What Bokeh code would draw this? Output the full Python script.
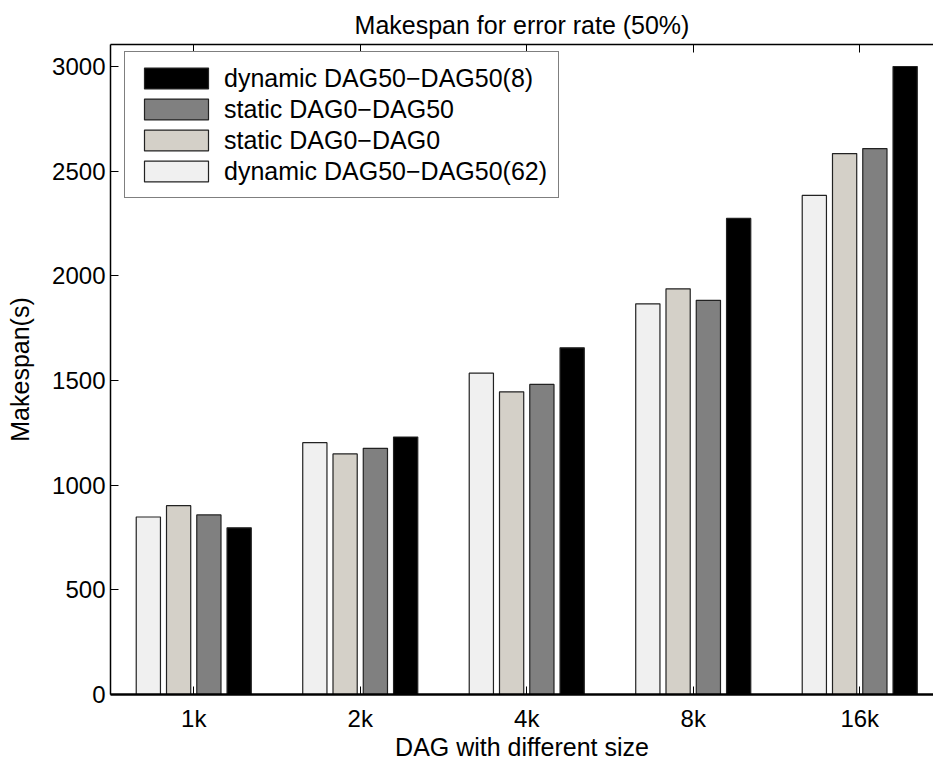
from bokeh.plotting import figure
from bokeh.models import (ColumnDataSource, Range1d, FixedTicker, LinearAxis,
                          Legend, LegendItem)
from bokeh.embed import file_html
from bokeh.resources import INLINE

# ---- data ----
categories = ["1k", "2k", "4k", "8k", "16k"]
series_names = ["dynamic DAG50\u2212DAG50(62)", "static DAG0\u2212DAG0",
                "static DAG0\u2212DAG50", "dynamic DAG50\u2212DAG50(8)"]
dyn_62 = [848, 1203, 1535, 1866, 2384]
static_0_0 = [902, 1149, 1446, 1938, 2584]
static_0_50 = [858, 1176, 1481, 1883, 2608]
dyn_8 = [796, 1230, 1656, 2274, 3000]
y_ticks = [0, 500, 1000, 1500, 2000, 2500, 3000]

series_values = [dyn_62, static_0_0, static_0_50, dyn_8]
colors = ["#f0f0f0", "#d4d0c8", "#808080", "#000000"]
offsets = [-0.2727, -0.0909, 0.0909, 0.2727]
bar_w = 0.1455

FONT = "Liberation Sans"

p = figure(width=933, height=763, output_backend="svg", toolbar_location=None,
           x_range=Range1d(0.5, 5.443), y_range=Range1d(0, 3105),
           min_border_left=110, min_border_right=0, min_border_top=44,
           min_border_bottom=65, title="Makespan for error rate (50%)")
p.outline_line_color = None
p.grid.visible = False
p.background_fill_color = "white"
p.border_fill_color = "white"

p.title.text_font = FONT
p.title.text_font_size = "25px"
p.title.text_font_style = "normal"
p.title.align = "center"
p.title.text_color = "black"
p.title.standoff = 12
p.title.offset = 4

renderers = []
for vals, col, off in zip(series_values, colors, offsets):
    xs = [i + 1 + off for i in range(len(categories))]
    src = ColumnDataSource(dict(x=xs, top=vals))
    r = p.vbar(x="x", top="top", width=bar_w, bottom=0, source=src,
               fill_color=col, line_color="#222222", line_width=1.2)
    renderers.append(r)

tick_pos = list(range(1, len(categories) + 1))
p.xaxis.ticker = FixedTicker(ticks=tick_pos)
p.xaxis.major_label_overrides = {i + 1: c for i, c in enumerate(categories)}
p.yaxis.ticker = FixedTicker(ticks=y_ticks)
p.xaxis.axis_label = "DAG with different size"
p.yaxis.axis_label = "Makespan(s)"

for ax in [p.xaxis[0], p.yaxis[0]]:
    ax.major_tick_in = 8
    ax.major_tick_out = 0
    ax.minor_tick_line_color = None
    ax.axis_line_color = "black"
    ax.major_tick_line_color = "black"
    ax.major_label_text_font = FONT
    ax.major_label_text_font_size = "24px"
    ax.major_label_text_color = "black"
    ax.axis_label_text_font = FONT
    ax.axis_label_text_font_size = "25px"
    ax.axis_label_text_font_style = "normal"
    ax.axis_label_text_color = "black"

p.xaxis.axis_line_width = 2.5
p.yaxis.axis_line_width = 1.5
p.xaxis.major_label_standoff = 10
p.xaxis.axis_label_standoff = -2
p.yaxis.major_label_standoff = 5
p.yaxis.axis_label_standoff = 15

top_ax = LinearAxis(ticker=FixedTicker(ticks=tick_pos),
                    major_label_overrides={t: "" for t in tick_pos},
                    major_label_standoff=0,
                    major_tick_in=8, major_tick_out=0,
                    minor_tick_line_color=None, axis_line_width=1.5,
                    axis_line_color="black", major_tick_line_color="black")
p.add_layout(top_ax, "above")

items = [LegendItem(label=series_names[i], renderers=[renderers[i]])
         for i in [3, 2, 1, 0]]
legend = Legend(items=items, location=(14, 496))
legend.label_text_font = FONT
legend.label_text_font_size = "25px"
legend.label_text_color = "black"
legend.glyph_width = 80
legend.glyph_height = 26
legend.label_height = 30
legend.label_standoff = 8
legend.spacing = 1
legend.padding = 11
legend.margin = 0
legend.border_line_color = "black"
legend.border_line_width = 1.2
legend.background_fill_color = "white"
legend.background_fill_alpha = 1
p.add_layout(legend, "center")

open("out.html", "w").write(file_html(p, INLINE))
